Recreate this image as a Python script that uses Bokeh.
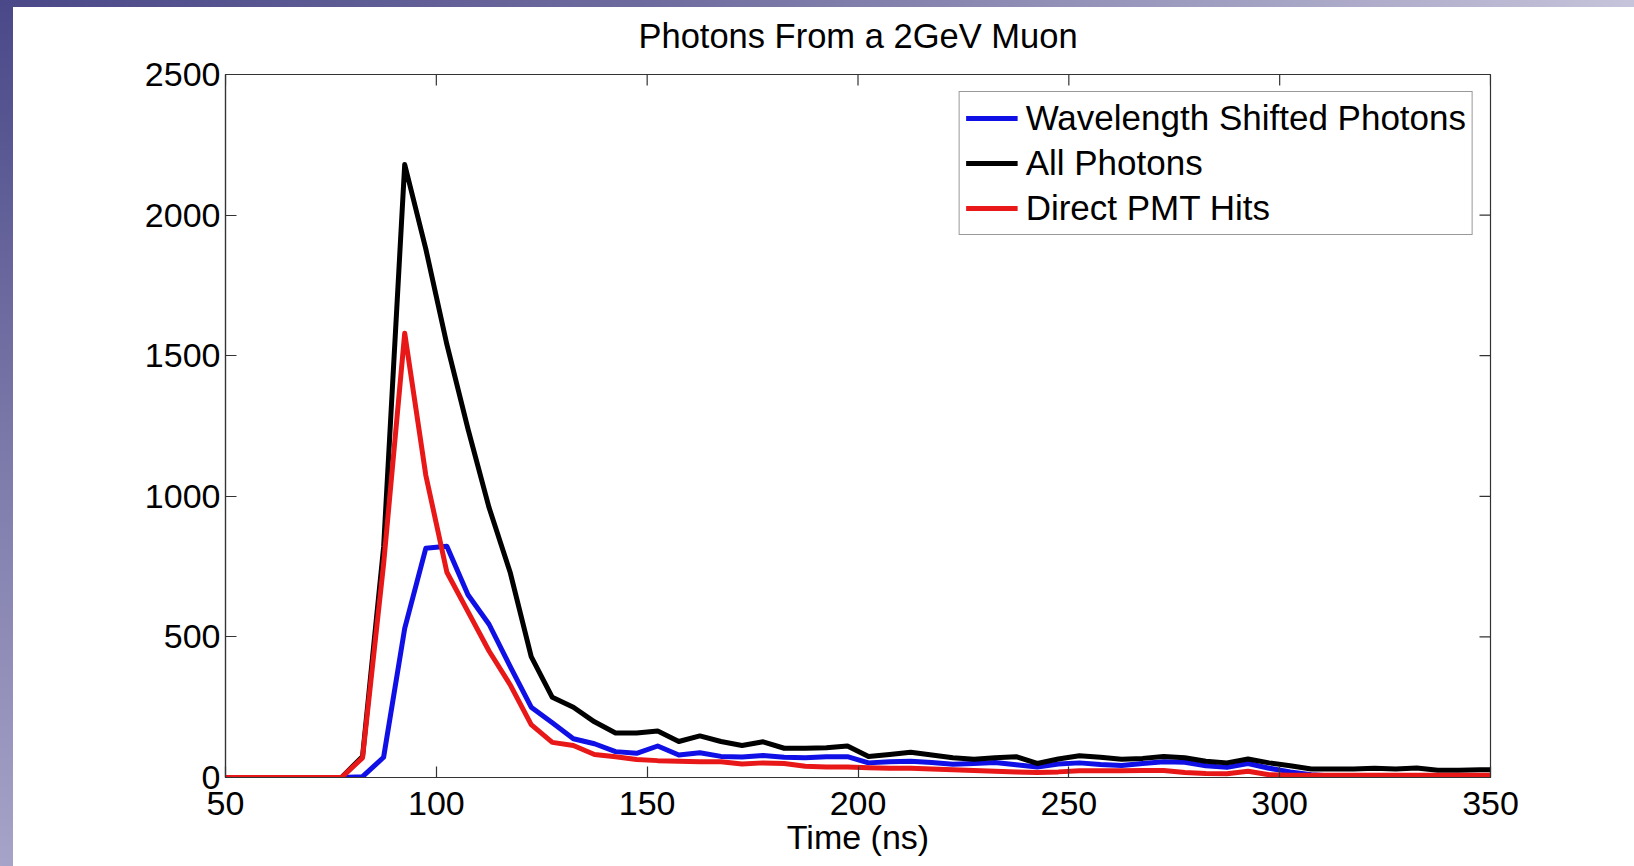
import math
from bokeh.plotting import figure
from bokeh.models import LinearAxis, FixedTicker, Legend, LegendItem, Range1d
from bokeh.embed import file_html
from bokeh.resources import INLINE

title_text = "Photons From a 2GeV Muon"
x_label = "Time (ns)"
series_names = ["Wavelength Shifted Photons", "All Photons", "Direct PMT Hits"]
series_colors = ["#1010e6", "#000000", "#e81818"]

x_ticks = [50, 100, 150, 200, 250, 300, 350]
y_ticks = [0, 500, 1000, 1500, 2000, 2500]

time_ns = [
    47.5, 52.5, 57.5, 62.5, 67.5, 72.5, 77.5, 82.5, 87.5, 92.5,
    97.5, 102.5, 107.5, 112.5, 117.5, 122.5, 127.5, 132.5, 137.5, 142.5,
    147.5, 152.5, 157.5, 162.5, 167.5, 172.5, 177.5, 182.5, 187.5, 192.5,
    197.5, 202.5, 207.5, 212.5, 217.5, 222.5, 227.5, 232.5, 237.5, 242.5,
    247.5, 252.5, 257.5, 262.5, 267.5, 272.5, 277.5, 282.5, 287.5, 292.5,
    297.5, 302.5, 307.5, 312.5, 317.5, 322.5, 327.5, 332.5, 337.5, 342.5,
    347.5, 352.5,
]

wls_photons = [
    0, 0, 0, 0, 0, 0, 0, 3, 72, 530,
    815, 822, 650, 545, 395, 250, 195, 138, 120, 92,
    86, 112, 80, 88, 75, 73, 78, 72, 70, 74,
    74, 52, 56, 58, 53, 47, 50, 53, 45, 37,
    48, 52, 46, 43, 50, 56, 54, 42, 36, 50,
    33, 20, 10, 5, 5, 5, 5, 5, 5, 5,
    5, 5,
]

all_photons = [
    0, 0, 0, 0, 0, 0, 0, 75, 820, 2180,
    1880, 1540, 1240, 960, 730, 430, 285, 250, 198, 158,
    158, 165, 128, 148, 128, 114, 127, 104, 104, 106,
    112, 75, 82, 90, 80, 70, 65, 70, 74, 50,
    66, 77, 72, 65, 68, 75, 70, 58, 52, 66,
    52, 42, 30, 30, 30, 33, 30, 34, 26, 26,
    28, 28,
]

direct_pmt = [
    0, 0, 0, 0, 0, 0, 0, 70, 760, 1580,
    1075, 730, 590, 450, 330, 188, 125, 114, 82, 74,
    64, 60, 58, 56, 56, 48, 52, 50, 40, 37,
    37, 35, 33, 33, 30, 28, 25, 22, 20, 18,
    20, 24, 24, 24, 25, 25, 18, 14, 13, 22,
    10, 8, 8, 8, 8, 8, 8, 8, 8, 8,
    8, 8,
]

FONT = "Liberation Sans"
FS = "34px"
AX = "#333333"
TICK_LEN = 11
SHIFT = 6  # figure is raised by this many px so the title sits higher

p = figure(
    frame_width=1265, frame_height=703,
    min_border_left=225, min_border_right=144,
    min_border_top=74 + SHIFT, min_border_bottom=89,
    x_range=Range1d(x_ticks[0], x_ticks[-1]), y_range=Range1d(y_ticks[0], y_ticks[-1]),
    output_backend="svg", toolbar_location=None,
    x_axis_type=None, y_axis_type=None,
)
p.grid.visible = False
p.background_fill_color = "white"
p.border_fill_color = None
p.outline_line_color = AX
p.outline_line_width = 1.2
p.styles = {
    "position": "absolute", "left": "0px", "top": f"-{SHIFT}px",
    "background": (
        f"linear-gradient(to right, #4a4888, #6e6c9e 40%, #c6c4da) left {SHIFT}px / 100% 7px no-repeat, "
        f"linear-gradient(to bottom, #4a4888, #7a78a8 50%, #a6a4c8) left {SHIFT}px / 13px 100% no-repeat, "
        "#ffffff"
    ),
}

p.title.text = title_text
p.title.align = "center"
p.title.text_font = FONT
p.title.text_font_size = "34.5px"
p.title.text_font_style = "normal"
p.title.text_color = "#000000"
p.title.text_line_height = 1.0
p.title.standoff = 40


def make_axis(ticker_vals):
    ax = LinearAxis(ticker=FixedTicker(ticks=ticker_vals))
    ax.axis_line_color = AX
    ax.axis_line_width = 1.2
    ax.major_tick_line_color = AX
    ax.major_tick_line_width = 1.2
    ax.major_tick_in = TICK_LEN
    ax.major_tick_out = 0
    ax.minor_tick_line_color = None
    ax.major_label_text_font = FONT
    ax.major_label_text_color = "#000000"
    ax.major_label_text_font_size = FS
    return ax


xb = make_axis(x_ticks)
xb.major_label_standoff = 14
xb.axis_label = x_label
xb.axis_label_text_font = FONT
xb.axis_label_text_font_size = FS
xb.axis_label_text_font_style = "normal"
xb.axis_label_text_color = "#000000"
xb.axis_label_standoff = 0
p.add_layout(xb, "below")

yl = make_axis(y_ticks)
yl.major_label_standoff = 5
p.add_layout(yl, "left")

# MATLAB-style inward tick marks on the top and right edges of the box
p.ray(x=x_ticks, y=[p.y_range.end] * len(x_ticks), length=TICK_LEN, length_units="screen",
      angle=-math.pi / 2, line_color=AX, line_width=1.2)
p.ray(x=[p.x_range.end] * len(y_ticks), y=y_ticks, length=TICK_LEN, length_units="screen",
      angle=math.pi, line_color=AX, line_width=1.2)

renderers = []
for ys, col in zip([wls_photons, all_photons, direct_pmt], series_colors):
    r = p.line(time_ns, ys, line_color=col, line_width=5, line_join="round")
    renderers.append(r)

legend = Legend(
    items=[LegendItem(label=n, renderers=[r]) for n, r in zip(series_names, renderers)],
    location="top_right",
    margin=17,
    padding=6,
    spacing=5,
    label_height=38,
    glyph_height=38,
    glyph_width=52,
    label_standoff=8,
    label_text_font=FONT,
    label_text_font_size="35px",
    label_text_color="#000000",
    border_line_color=AX,
    border_line_width=1.2,
    background_fill_color="white",
    background_fill_alpha=1.0,
)
p.add_layout(legend, "center")

open("out.html", "w").write(file_html(p, INLINE))
